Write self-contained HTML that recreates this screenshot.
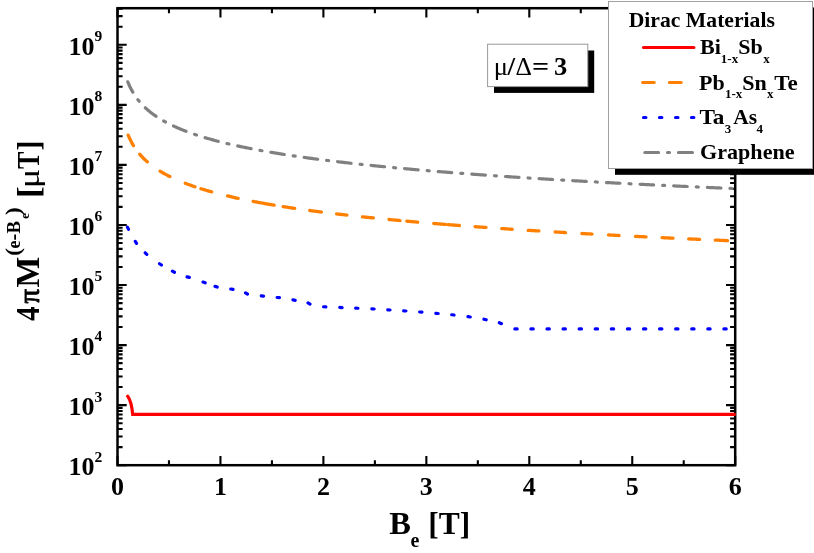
<!DOCTYPE html>
<html><head><meta charset="utf-8"><title>Dirac Materials</title>
<style>html,body{margin:0;padding:0;background:#fff;}body{width:814px;height:553px;overflow:hidden;}svg{display:block;will-change:transform;}text{font-family:"Liberation Serif",serif;font-weight:bold;fill:#000;}.r{font-weight:normal;}</style></head><body>
<svg width="814" height="553" viewBox="0 0 814 553">
<rect x="0" y="0" width="814" height="553" fill="#fff"/>
<path d="M117.50 465.20 V456.00 M117.50 8.20 V17.40 M168.97 465.20 V460.20 M168.97 8.20 V13.20 M220.45 465.20 V456.00 M220.45 8.20 V17.40 M271.93 465.20 V460.20 M271.93 8.20 V13.20 M323.40 465.20 V456.00 M323.40 8.20 V17.40 M374.88 465.20 V460.20 M374.88 8.20 V13.20 M426.35 465.20 V456.00 M426.35 8.20 V17.40 M477.82 465.20 V460.20 M477.82 8.20 V13.20 M529.30 465.20 V456.00 M529.30 8.20 V17.40 M580.78 465.20 V460.20 M580.78 8.20 V13.20 M632.25 465.20 V456.00 M632.25 8.20 V17.40 M683.73 465.20 V460.20 M683.73 8.20 V13.20 M735.20 465.20 V456.00 M735.20 8.20 V17.40 M117.50 465.20 H126.70 M735.20 465.20 H726.00 M117.50 447.12 H122.60 M735.20 447.12 H730.10 M117.50 436.54 H122.60 M735.20 436.54 H730.10 M117.50 429.04 H122.60 M735.20 429.04 H730.10 M117.50 423.22 H122.60 M735.20 423.22 H730.10 M117.50 418.46 H122.60 M735.20 418.46 H730.10 M117.50 414.44 H122.60 M735.20 414.44 H730.10 M117.50 410.96 H122.60 M735.20 410.96 H730.10 M117.50 407.89 H122.60 M735.20 407.89 H730.10 M117.50 405.14 H126.70 M735.20 405.14 H726.00 M117.50 387.06 H122.60 M735.20 387.06 H730.10 M117.50 376.48 H122.60 M735.20 376.48 H730.10 M117.50 368.98 H122.60 M735.20 368.98 H730.10 M117.50 363.16 H122.60 M735.20 363.16 H730.10 M117.50 358.40 H122.60 M735.20 358.40 H730.10 M117.50 354.38 H122.60 M735.20 354.38 H730.10 M117.50 350.90 H122.60 M735.20 350.90 H730.10 M117.50 347.83 H122.60 M735.20 347.83 H730.10 M117.50 345.08 H126.70 M735.20 345.08 H726.00 M117.50 327.00 H122.60 M735.20 327.00 H730.10 M117.50 316.42 H122.60 M735.20 316.42 H730.10 M117.50 308.92 H122.60 M735.20 308.92 H730.10 M117.50 303.10 H122.60 M735.20 303.10 H730.10 M117.50 298.34 H122.60 M735.20 298.34 H730.10 M117.50 294.32 H122.60 M735.20 294.32 H730.10 M117.50 290.84 H122.60 M735.20 290.84 H730.10 M117.50 287.77 H122.60 M735.20 287.77 H730.10 M117.50 285.02 H126.70 M735.20 285.02 H726.00 M117.50 266.94 H122.60 M735.20 266.94 H730.10 M117.50 256.36 H122.60 M735.20 256.36 H730.10 M117.50 248.86 H122.60 M735.20 248.86 H730.10 M117.50 243.04 H122.60 M735.20 243.04 H730.10 M117.50 238.28 H122.60 M735.20 238.28 H730.10 M117.50 234.26 H122.60 M735.20 234.26 H730.10 M117.50 230.78 H122.60 M735.20 230.78 H730.10 M117.50 227.71 H122.60 M735.20 227.71 H730.10 M117.50 224.96 H126.70 M735.20 224.96 H726.00 M117.50 206.88 H122.60 M735.20 206.88 H730.10 M117.50 196.30 H122.60 M735.20 196.30 H730.10 M117.50 188.80 H122.60 M735.20 188.80 H730.10 M117.50 182.98 H122.60 M735.20 182.98 H730.10 M117.50 178.22 H122.60 M735.20 178.22 H730.10 M117.50 174.20 H122.60 M735.20 174.20 H730.10 M117.50 170.72 H122.60 M735.20 170.72 H730.10 M117.50 167.65 H122.60 M735.20 167.65 H730.10 M117.50 164.90 H126.70 M735.20 164.90 H726.00 M117.50 146.82 H122.60 M735.20 146.82 H730.10 M117.50 136.24 H122.60 M735.20 136.24 H730.10 M117.50 128.74 H122.60 M735.20 128.74 H730.10 M117.50 122.92 H122.60 M735.20 122.92 H730.10 M117.50 118.16 H122.60 M735.20 118.16 H730.10 M117.50 114.14 H122.60 M735.20 114.14 H730.10 M117.50 110.66 H122.60 M735.20 110.66 H730.10 M117.50 107.59 H122.60 M735.20 107.59 H730.10 M117.50 104.84 H126.70 M735.20 104.84 H726.00 M117.50 86.76 H122.60 M735.20 86.76 H730.10 M117.50 76.18 H122.60 M735.20 76.18 H730.10 M117.50 68.68 H122.60 M735.20 68.68 H730.10 M117.50 62.86 H122.60 M735.20 62.86 H730.10 M117.50 58.10 H122.60 M735.20 58.10 H730.10 M117.50 54.08 H122.60 M735.20 54.08 H730.10 M117.50 50.60 H122.60 M735.20 50.60 H730.10 M117.50 47.53 H122.60 M735.20 47.53 H730.10 M117.50 44.78 H126.70 M735.20 44.78 H726.00 M117.50 26.70 H122.60 M735.20 26.70 H730.10 M117.50 16.12 H122.60 M735.20 16.12 H730.10 M117.50 8.62 H122.60 M735.20 8.62 H730.10" fill="none" stroke="#000" stroke-width="2.1"/>
<rect x="117.50" y="8.20" width="617.70" height="457.00" fill="none" stroke="#000" stroke-width="2.5"/>
<clipPath id="cp"><rect x="100" y="0" width="636.3" height="480"/></clipPath>
<path clip-path="url(#cp)" d="M127.80 81.84 L128.80 84.26 L129.80 86.47 L130.80 88.51 L131.80 90.40 L132.80 92.16 L133.80 93.81 L134.80 95.37 L135.80 96.83 L136.80 98.22 L137.80 99.54 L138.80 100.80 L139.80 101.99 L140.80 103.14 L141.80 104.23 L142.80 105.28 L143.80 106.30 L144.80 107.27 L145.80 108.21 L146.80 109.11 L147.80 109.99 L148.80 110.84 L149.80 111.66 L150.80 112.45 L151.80 113.22 L152.80 113.97 L153.80 114.70 L154.80 115.41 L155.80 116.10 L156.80 116.77 L157.80 117.43 L158.80 118.07 L159.80 118.69 L160.80 119.30 L161.80 119.90 L162.80 120.48 L163.80 121.05 L164.80 121.61 L165.80 122.15 L166.80 122.69 L167.80 123.21 L168.80 123.73 L169.80 124.23 L170.80 124.72 L171.80 125.21 L172.80 125.68 L173.80 126.15 L174.80 126.61 L175.80 127.06 L176.80 127.51 L177.80 127.94 L178.80 128.37 L179.80 128.79 L180.80 129.21 L181.80 129.62 L182.80 130.02 L183.80 130.42 L184.80 130.81 L185.80 131.19 L186.80 131.57 L187.80 131.94 L188.80 132.31 L189.80 132.68 L190.80 133.04 L191.80 133.39 L192.80 133.74 L193.80 134.08 L194.80 134.42 L195.80 134.76 L196.80 135.09 L197.80 135.41 L198.80 135.74 L199.80 136.06 L200.80 136.37 L201.80 136.68 L202.80 136.99 L203.80 137.29 L204.80 137.59 L205.80 137.89 L206.80 138.19 L207.80 138.48 L208.80 138.76 L209.80 139.05 L210.80 139.33 L211.80 139.61 L212.80 139.88 L213.80 140.15 L214.80 140.42 L215.80 140.69 L216.80 140.95 L217.80 141.22 L218.80 141.47 L219.80 141.73 L220.80 141.98 L221.80 142.24 L222.80 142.48 L223.80 142.73 L224.80 142.98 L225.80 143.22 L226.80 143.46 L227.80 143.69 L228.80 143.93 L229.80 144.16 L230.80 144.39 L231.80 144.62 L232.80 144.85 L233.80 145.08 L234.80 145.30 L235.80 145.52 L236.80 145.74 L237.80 145.96 L238.80 146.17 L239.80 146.39 L240.80 146.60 L241.80 146.81 L242.80 147.02 L243.80 147.23 L244.80 147.43 L245.80 147.64 L246.80 147.84 L247.80 148.04 L248.80 148.24 L249.80 148.44 L250.80 148.64 L251.80 148.83 L252.80 149.02 L253.80 149.22 L254.80 149.41 L255.80 149.60 L256.80 149.78 L257.80 149.97 L258.80 150.16 L259.80 150.34 L260.80 150.52 L261.80 150.70 L262.80 150.88 L263.80 151.06 L264.80 151.24 L265.80 151.42 L266.80 151.59 L267.80 151.77 L268.80 151.94 L269.80 152.11 L270.80 152.28 L271.80 152.45 L272.80 152.62 L273.80 152.79 L274.80 152.95 L275.80 153.12 L276.80 153.28 L277.80 153.45 L278.80 153.61 L279.80 153.77 L280.80 153.93 L281.80 154.09 L282.80 154.25 L283.80 154.40 L284.80 154.56 L285.80 154.72 L286.80 154.87 L287.80 155.02 L288.80 155.18 L289.80 155.33 L290.80 155.48 L291.80 155.63 L292.80 155.78 L293.80 155.93 L294.80 156.08 L295.80 156.22 L296.80 156.37 L297.80 156.51 L298.80 156.66 L299.80 156.80 L300.80 156.94 L301.80 157.09 L302.80 157.23 L303.80 157.37 L304.80 157.51 L305.80 157.65 L306.80 157.78 L307.80 157.92 L308.80 158.06 L309.80 158.19 L310.80 158.33 L311.80 158.46 L312.80 158.60 L313.80 158.73 L314.80 158.86 L315.80 159.00 L316.80 159.13 L317.80 159.26 L318.80 159.39 L319.80 159.52 L320.80 159.64 L321.80 159.77 L322.80 159.90 L323.80 160.03 L324.80 160.15 L325.80 160.28 L326.80 160.40 L327.80 160.53 L328.80 160.65 L329.80 160.77 L330.80 160.90 L331.80 161.02 L332.80 161.14 L333.80 161.26 L334.80 161.38 L335.80 161.50 L336.80 161.62 L337.80 161.74 L338.80 161.86 L339.80 161.98 L340.80 162.09 L341.80 162.21 L342.80 162.32 L343.80 162.44 L344.80 162.56 L345.80 162.67 L346.80 162.78 L347.80 162.90 L348.80 163.01 L349.80 163.12 L350.80 163.24 L351.80 163.35 L352.80 163.46 L353.80 163.57 L354.80 163.68 L355.80 163.79 L356.80 163.90 L357.80 164.01 L358.80 164.11 L359.80 164.22 L360.80 164.33 L361.80 164.44 L362.80 164.54 L363.80 164.65 L364.80 164.76 L365.80 164.86 L366.80 164.97 L367.80 165.07 L368.80 165.17 L369.80 165.28 L370.80 165.38 L371.80 165.48 L372.80 165.59 L373.80 165.69 L374.80 165.79 L375.80 165.89 L376.80 165.99 L377.80 166.09 L378.80 166.19 L379.80 166.29 L380.80 166.39 L381.80 166.49 L382.80 166.59 L383.80 166.69 L384.80 166.78 L385.80 166.88 L386.80 166.98 L387.80 167.07 L388.80 167.17 L389.80 167.27 L390.80 167.36 L391.80 167.46 L392.80 167.55 L393.80 167.65 L394.80 167.74 L395.80 167.84 L396.80 167.93 L397.80 168.02 L398.80 168.12 L399.80 168.21 L400.80 168.30 L401.80 168.39 L402.80 168.48 L403.80 168.57 L404.80 168.67 L405.80 168.76 L406.80 168.85 L407.80 168.94 L408.80 169.03 L409.80 169.12 L410.80 169.20 L411.80 169.29 L412.80 169.38 L413.80 169.47 L414.80 169.56 L415.80 169.65 L416.80 169.73 L417.80 169.82 L418.80 169.91 L419.80 169.99 L420.80 170.08 L421.80 170.17 L422.80 170.25 L423.80 170.34 L424.80 170.42 L425.80 170.51 L426.80 170.59 L427.80 170.67 L428.80 170.76 L429.80 170.84 L430.80 170.93 L431.80 171.01 L432.80 171.09 L433.80 171.17 L434.80 171.26 L435.80 171.34 L436.80 171.42 L437.80 171.50 L438.80 171.58 L439.80 171.66 L440.80 171.75 L441.80 171.83 L442.80 171.91 L443.80 171.99 L444.80 172.07 L445.80 172.15 L446.80 172.22 L447.80 172.30 L448.80 172.38 L449.80 172.46 L450.80 172.54 L451.80 172.62 L452.80 172.70 L453.80 172.77 L454.80 172.85 L455.80 172.93 L456.80 173.01 L457.80 173.08 L458.80 173.16 L459.80 173.23 L460.80 173.31 L461.80 173.39 L462.80 173.46 L463.80 173.54 L464.80 173.61 L465.80 173.69 L466.80 173.76 L467.80 173.84 L468.80 173.91 L469.80 173.99 L470.80 174.06 L471.80 174.13 L472.80 174.21 L473.80 174.28 L474.80 174.35 L475.80 174.43 L476.80 174.50 L477.80 174.57 L478.80 174.64 L479.80 174.72 L480.80 174.79 L481.80 174.86 L482.80 174.93 L483.80 175.00 L484.80 175.07 L485.80 175.14 L486.80 175.22 L487.80 175.29 L488.80 175.36 L489.80 175.43 L490.80 175.50 L491.80 175.57 L492.80 175.64 L493.80 175.70 L494.80 175.77 L495.80 175.84 L496.80 175.91 L497.80 175.98 L498.80 176.05 L499.80 176.12 L500.80 176.19 L501.80 176.25 L502.80 176.32 L503.80 176.39 L504.80 176.46 L505.80 176.52 L506.80 176.59 L507.80 176.66 L508.80 176.72 L509.80 176.79 L510.80 176.86 L511.80 176.92 L512.80 176.99 L513.80 177.06 L514.80 177.12 L515.80 177.19 L516.80 177.25 L517.80 177.32 L518.80 177.38 L519.80 177.45 L520.80 177.51 L521.80 177.58 L522.80 177.64 L523.80 177.71 L524.80 177.77 L525.80 177.83 L526.80 177.90 L527.80 177.96 L528.80 178.02 L529.80 178.09 L530.80 178.15 L531.80 178.21 L532.80 178.28 L533.80 178.34 L534.80 178.40 L535.80 178.46 L536.80 178.53 L537.80 178.59 L538.80 178.65 L539.80 178.71 L540.80 178.77 L541.80 178.84 L542.80 178.90 L543.80 178.96 L544.80 179.02 L545.80 179.08 L546.80 179.14 L547.80 179.20 L548.80 179.26 L549.80 179.32 L550.80 179.38 L551.80 179.44 L552.80 179.50 L553.80 179.56 L554.80 179.62 L555.80 179.68 L556.80 179.74 L557.80 179.80 L558.80 179.86 L559.80 179.92 L560.80 179.98 L561.80 180.04 L562.80 180.10 L563.80 180.15 L564.80 180.21 L565.80 180.27 L566.80 180.33 L567.80 180.39 L568.80 180.45 L569.80 180.50 L570.80 180.56 L571.80 180.62 L572.80 180.68 L573.80 180.73 L574.80 180.79 L575.80 180.85 L576.80 180.90 L577.80 180.96 L578.80 181.02 L579.80 181.07 L580.80 181.13 L581.80 181.19 L582.80 181.24 L583.80 181.30 L584.80 181.35 L585.80 181.41 L586.80 181.47 L587.80 181.52 L588.80 181.58 L589.80 181.63 L590.80 181.69 L591.80 181.74 L592.80 181.80 L593.80 181.85 L594.80 181.91 L595.80 181.96 L596.80 182.02 L597.80 182.07 L598.80 182.12 L599.80 182.18 L600.80 182.23 L601.80 182.29 L602.80 182.34 L603.80 182.39 L604.80 182.45 L605.80 182.50 L606.80 182.55 L607.80 182.61 L608.80 182.66 L609.80 182.71 L610.80 182.77 L611.80 182.82 L612.80 182.87 L613.80 182.92 L614.80 182.98 L615.80 183.03 L616.80 183.08 L617.80 183.13 L618.80 183.19 L619.80 183.24 L620.80 183.29 L621.80 183.34 L622.80 183.39 L623.80 183.45 L624.80 183.50 L625.80 183.55 L626.80 183.60 L627.80 183.65 L628.80 183.70 L629.80 183.75 L630.80 183.80 L631.80 183.85 L632.80 183.90 L633.80 183.96 L634.80 184.01 L635.80 184.06 L636.80 184.11 L637.80 184.16 L638.80 184.21 L639.80 184.26 L640.80 184.31 L641.80 184.36 L642.80 184.41 L643.80 184.46 L644.80 184.51 L645.80 184.55 L646.80 184.60 L647.80 184.65 L648.80 184.70 L649.80 184.75 L650.80 184.80 L651.80 184.85 L652.80 184.90 L653.80 184.95 L654.80 185.00 L655.80 185.04 L656.80 185.09 L657.80 185.14 L658.80 185.19 L659.80 185.24 L660.80 185.28 L661.80 185.33 L662.80 185.38 L663.80 185.43 L664.80 185.48 L665.80 185.52 L666.80 185.57 L667.80 185.62 L668.80 185.67 L669.80 185.71 L670.80 185.76 L671.80 185.81 L672.80 185.85 L673.80 185.90 L674.80 185.95 L675.80 186.00 L676.80 186.04 L677.80 186.09 L678.80 186.14 L679.80 186.18 L680.80 186.23 L681.80 186.27 L682.80 186.32 L683.80 186.37 L684.80 186.41 L685.80 186.46 L686.80 186.50 L687.80 186.55 L688.80 186.60 L689.80 186.64 L690.80 186.69 L691.80 186.73 L692.80 186.78 L693.80 186.82 L694.80 186.87 L695.80 186.91 L696.80 186.96 L697.80 187.00 L698.80 187.05 L699.80 187.09 L700.80 187.14 L701.80 187.18 L702.80 187.23 L703.80 187.27 L704.80 187.32 L705.80 187.36 L706.80 187.40 L707.80 187.45 L708.80 187.49 L709.80 187.54 L710.80 187.58 L711.80 187.63 L712.80 187.67 L713.80 187.71 L714.80 187.76 L715.80 187.80 L716.80 187.84 L717.80 187.89 L718.80 187.93 L719.80 187.97 L720.80 188.02 L721.80 188.06 L722.80 188.10 L723.80 188.15 L724.80 188.19 L725.80 188.23 L726.80 188.28 L727.80 188.32 L728.80 188.36 L729.80 188.40 L730.80 188.45 L731.80 188.49 L732.80 188.53 L733.80 188.57 L734.80 188.62 L735.20 188.63" fill="none" stroke="#808080" stroke-width="3.2" stroke-linecap="round" stroke-linejoin="round" stroke-dasharray="13.6 9.05 2 9.05" stroke-dashoffset="2.1"/>
<path d="M128.19 135.12 L129.19 137.46 L130.19 139.60 L131.19 141.58 L132.19 143.42 L133.19 145.14 L133.43 145.53 M139.67 154.16 L140.67 155.31 L141.67 156.41 L142.67 157.47 L143.67 158.49 L144.67 159.46 L145.67 160.41 L146.67 161.32 L147.27 161.85 M160.08 171.18 L161.08 171.78 L162.08 172.38 L163.08 172.96 L164.08 173.52 L165.08 174.08 L166.08 174.62 L167.08 175.15 L168.08 175.67 L169.08 176.18 L169.86 176.57 M185.30 183.31 L186.30 183.70 L187.30 184.07 L188.30 184.44 L189.30 184.81 L190.30 185.17 L191.30 185.53 L192.30 185.88 L193.30 186.22 L194.30 186.57 L194.98 186.79 M200.93 188.73 L201.93 189.04 L202.93 189.34 L203.93 189.65 L204.93 189.95 L205.93 190.24 L206.93 190.54 L207.93 190.83 L208.93 191.11 L209.93 191.40 L210.93 191.68 L211.65 191.88 M227.66 195.97 L228.66 196.21 L229.66 196.44 L230.66 196.68 L231.66 196.91 L232.66 197.13 L233.66 197.36 L234.66 197.58 L235.66 197.80 L236.66 198.02 L237.66 198.24 L238.13 198.34 M253.17 201.41 L254.17 201.60 L255.17 201.79 L256.17 201.98 L257.17 202.17 L258.17 202.35 L259.17 202.54 L260.17 202.72 L261.02 202.88 M262.98 203.23 L263.98 203.41 L264.98 203.58 L265.98 203.76 L266.98 203.94 L267.98 204.11 L268.98 204.28 L269.98 204.45 L270.98 204.62 L271.98 204.79 L272.98 204.96 L273.98 205.13 L274.12 205.15 M283.18 206.62 L284.18 206.78 L285.18 206.93 L286.18 207.09 L287.18 207.24 L288.18 207.40 L289.18 207.55 L290.18 207.70 L291.18 207.85 L292.18 208.00 L293.18 208.15 L294.18 208.30 L294.72 208.38 M309.79 210.50 L310.79 210.64 L311.79 210.77 L312.79 210.91 L313.79 211.04 L314.79 211.17 L315.79 211.31 L316.79 211.44 L317.79 211.57 L318.79 211.70 L319.79 211.83 L320.79 211.96 L321.41 212.04 M336.59 213.91 L337.59 214.03 L338.59 214.15 L339.59 214.26 L340.59 214.38 L341.59 214.50 L342.59 214.61 L343.59 214.73 L344.59 214.84 L345.59 214.96 L346.59 215.07 L346.91 215.11 M362.49 216.82 L363.49 216.93 L364.49 217.04 L365.49 217.14 L366.49 217.25 L367.49 217.35 L368.49 217.45 L369.49 217.56 L370.49 217.66 L371.49 217.76 L372.49 217.87 L373.41 217.96 M388.99 219.50 L389.99 219.60 L390.99 219.69 L391.99 219.79 L392.99 219.88 L393.99 219.98 L394.99 220.07 L395.99 220.17 L396.99 220.26 L397.99 220.35 L398.99 220.45 L399.99 220.54 L400.01 220.54 M406.79 221.16 L407.79 221.25 L408.79 221.34 L409.79 221.43 L410.79 221.52 L411.79 221.61 L412.79 221.69 L413.79 221.78 L414.79 221.87 L415.79 221.96 L416.79 222.05 L417.71 222.12 M433.79 223.49 L434.79 223.57 L435.79 223.65 L436.79 223.73 L437.79 223.81 L438.79 223.90 L439.79 223.98 L440.79 224.06 L441.79 224.14 L442.79 224.22 L443.79 224.30 L444.79 224.38 L445.50 224.43 M448.00 224.63 L449.00 224.71 L450.00 224.79 L451.00 224.87 L452.00 224.95 L453.00 225.02 L454.00 225.10 L455.00 225.18 L456.00 225.26 L457.00 225.33 L458.00 225.41 L459.00 225.49 L459.40 225.52 M475.10 226.69 L476.10 226.76 L477.10 226.83 L478.10 226.91 L479.10 226.98 L480.10 227.05 L481.10 227.12 L482.10 227.19 L483.10 227.26 L484.10 227.34 L485.10 227.41 L486.00 227.47 M501.70 228.56 L502.70 228.63 L503.70 228.69 L504.70 228.76 L505.70 228.83 L506.70 228.90 L507.70 228.96 L508.70 229.03 L509.70 229.10 L510.70 229.16 L511.70 229.23 L512.10 229.26 M528.20 230.30 L529.20 230.36 L530.20 230.43 L531.20 230.49 L532.20 230.55 L533.20 230.61 L534.20 230.68 L535.20 230.74 L536.20 230.80 L537.20 230.86 L538.20 230.93 L538.90 230.97 M555.10 231.95 L556.10 232.01 L557.10 232.07 L558.10 232.13 L559.10 232.19 L560.10 232.25 L561.10 232.31 L562.10 232.37 L563.10 232.43 L564.10 232.48 L565.10 232.54 L565.50 232.57 M581.90 233.50 L582.90 233.56 L583.90 233.62 L584.90 233.67 L585.90 233.73 L586.90 233.78 L587.90 233.84 L588.90 233.89 L589.90 233.95 L590.90 234.01 L591.90 234.06 L592.00 234.07 M608.50 234.96 L609.50 235.01 L610.50 235.06 L611.50 235.12 L612.50 235.17 L613.50 235.22 L614.50 235.27 L615.50 235.33 L616.50 235.38 L617.50 235.43 L618.50 235.48 L619.10 235.51 M635.50 236.35 L636.50 236.40 L637.50 236.45 L638.50 236.50 L639.50 236.55 L640.50 236.60 L641.50 236.65 L642.50 236.70 L643.50 236.75 L644.50 236.80 L645.50 236.85 L646.00 236.88 M662.10 237.66 L663.10 237.71 L664.10 237.76 L665.10 237.80 L666.10 237.85 L667.10 237.90 L668.10 237.95 L669.10 237.99 L670.10 238.04 L671.10 238.09 L672.10 238.13 L673.00 238.18 M688.70 238.90 L689.70 238.95 L690.70 238.99 L691.70 239.04 L692.70 239.09 L693.70 239.13 L694.70 239.18 L695.70 239.22 L696.70 239.27 L697.70 239.31 L698.70 239.36 L699.60 239.40 M715.30 240.09 L716.30 240.13 L717.30 240.18 L718.30 240.22 L719.30 240.26 L720.30 240.31 L721.30 240.35 L722.30 240.39 L723.30 240.44 L724.30 240.48 L725.30 240.52 L726.30 240.57 L727.30 240.61 L727.50 240.62" fill="none" stroke="#ff8000" stroke-width="3.3" stroke-linecap="round" stroke-linejoin="round"/>
<path d="M127.46 227.18 L128.54 229.22 M135.29 241.42 L136.51 243.38 M145.19 252.79 L146.81 254.41 M159.56 263.74 L161.44 265.06 M172.38 271.18 L174.42 272.22 M187.08 276.86 L189.32 277.34 M203.00 282.06 L205.20 282.74 M215.00 286.36 L217.20 287.04 M230.77 289.00 L233.03 289.40 M245.54 292.87 L247.46 294.13 M261.26 295.88 L263.54 296.12 M277.15 297.50 L279.45 297.70 M292.97 299.90 L295.23 300.30 M308.00 302.93 L310.00 304.07 M323.55 306.76 L325.85 306.84 M339.75 307.44 L342.05 307.56 M355.65 308.14 L357.95 308.26 M371.85 308.82 L374.15 308.98 M387.75 309.82 L390.05 309.98 M403.65 310.82 L405.95 310.98 M419.65 312.00 L421.95 312.20 M435.85 313.30 L438.15 313.50 M451.76 314.78 L454.04 315.02 M467.96 316.64 L470.24 316.96 M483.98 319.24 L486.22 319.76 M499.36 322.71 L501.44 323.69 M514.85 328.90 L517.15 328.90 M530.93 328.90 L533.23 328.90 M547.01 328.90 L549.31 328.90 M563.09 328.90 L565.39 328.90 M579.17 328.90 L581.47 328.90 M595.25 328.90 L597.55 328.90 M611.33 328.90 L613.63 328.90 M627.41 328.90 L629.71 328.90 M643.49 328.90 L645.79 328.90 M659.57 328.90 L661.87 328.90 M675.65 328.90 L677.95 328.90 M691.73 328.90 L694.03 328.90 M707.81 328.90 L710.11 328.90 M723.89 328.90 L726.19 328.90" fill="none" stroke="#0000ff" stroke-width="3.2" stroke-linecap="round"/>
<path d="M127.7 396.2 C129.6 398.6 131.6 403 132.7 414.4 L734.4 414.4" fill="none" stroke="#ff0000" stroke-width="3.2" stroke-linecap="round" stroke-linejoin="miter"/>
<text x="68.5" y="475.20" font-size="26">10<tspan font-size="15.5" dy="-13.6">2</tspan></text>
<text x="68.5" y="415.14" font-size="26">10<tspan font-size="15.5" dy="-13.6">3</tspan></text>
<text x="68.5" y="355.08" font-size="26">10<tspan font-size="15.5" dy="-13.6">4</tspan></text>
<text x="68.5" y="295.02" font-size="26">10<tspan font-size="15.5" dy="-13.6">5</tspan></text>
<text x="68.5" y="234.96" font-size="26">10<tspan font-size="15.5" dy="-13.6">6</tspan></text>
<text x="68.5" y="174.90" font-size="26">10<tspan font-size="15.5" dy="-13.6">7</tspan></text>
<text x="68.5" y="114.84" font-size="26">10<tspan font-size="15.5" dy="-13.6">8</tspan></text>
<text x="68.5" y="54.78" font-size="26">10<tspan font-size="15.5" dy="-13.6">9</tspan></text>
<text x="117.50" y="494.7" font-size="26" text-anchor="middle">0</text>
<text x="220.45" y="494.7" font-size="26" text-anchor="middle">1</text>
<text x="323.40" y="494.7" font-size="26" text-anchor="middle">2</text>
<text x="426.35" y="494.7" font-size="26" text-anchor="middle">3</text>
<text x="529.30" y="494.7" font-size="26" text-anchor="middle">4</text>
<text x="632.25" y="494.7" font-size="26" text-anchor="middle">5</text>
<text x="735.20" y="494.7" font-size="26" text-anchor="middle">6</text>
<text x="389.2" y="534.1" font-size="32.5">B<tspan font-size="20" dy="13.3" dx="-0.3">e</tspan><tspan dy="-13.3" dx="1.0" textLength="49.9" lengthAdjust="spacingAndGlyphs"> [T]</tspan></text>
<g transform="translate(39.3 320.6) rotate(-90)">
<text transform="translate(-0.30 0.00) scale(0.850 1)" font-size="34.0">4</text>
<text class="r" stroke="#000" stroke-width="0.90" stroke-linejoin="round" transform="translate(17.20 -0.40) scale(0.950 1)" font-size="30.5">π</text>
<text transform="translate(33.04 0.00) scale(0.975 1)" font-size="33.5">M</text>
<text transform="translate(64.79 -19.00) scale(1.150 1)" font-size="20.0">(</text>
<text transform="translate(72.09 -19.00) scale(0.920 1)" font-size="19.5">e</text>
<text transform="translate(80.17 -19.00) scale(1.000 1)" font-size="20.0">-</text>
<text transform="translate(87.09 -19.00) scale(0.960 1)" font-size="19.5">B</text>
<text transform="translate(101.64 -10.40) scale(1.000 1)" font-size="13.5">e</text>
<text transform="translate(105.56 -19.00) scale(1.150 1)" font-size="20.0">)</text>
<text transform="translate(122.59 0.00) scale(1.080 1)" font-size="32.5">[</text>
<text class="r" transform="translate(132.23 0.00) scale(1.200 1)" font-size="30.5">μ</text>
<text transform="translate(151.69 0.00) scale(0.800 1)" font-size="32.5">T</text>
<text transform="translate(170.12 0.00) scale(0.920 1)" font-size="32.5">]</text>
</g>
<rect x="494" y="50.5" width="100.2" height="42.4" fill="#000"/>
<rect x="487.6" y="44.2" width="100.2" height="42.4" fill="#fff" stroke="#999" stroke-width="1"/>
<g transform="translate(0 75.3)">
<text class="r" transform="translate(493.85 0.00) scale(1.020 1)" font-size="26.0">μ</text>
<text transform="translate(507.57 0.00) scale(1.050 1)" font-size="26.0">/</text>
<text class="r" transform="translate(515.43 0.00) scale(1.040 1)" font-size="24.5">Δ</text>
<text transform="translate(531.90 0.00) scale(1.160 1)" font-size="26.0">=</text>
<text transform="translate(554.00 0.00) scale(1.020 1)" font-size="26.0">3</text>
</g>
<rect x="615" y="7.5" width="205" height="167.3" fill="#000"/>
<rect x="608.5" y="1.5" width="204" height="167" fill="#fff" stroke="#a0a0a0" stroke-width="1"/>
<text x="628.7" y="26.8" font-size="22" textLength="146.2" lengthAdjust="spacingAndGlyphs">Dirac Materials</text>
<path d="M643.5 47.5 H693.9" stroke="#ff0000" stroke-width="3.1" stroke-linecap="round" fill="none"/>
<path d="M642.6 82.5 H654.2 M669.4 82.5 H681.2" stroke="#ff8000" stroke-width="3.1" stroke-linecap="round" fill="none"/>
<path d="M643.5 117.5 h2.4 M659.45 117.5 h2.4 M675.55 117.5 h2.4 M691.45 117.5 h2.4" stroke="#0000ff" stroke-width="3.2" stroke-linecap="round" fill="none"/>
<path d="M644.8 152.5 H658.6 M667.5 152.5 H669.5 M678.4 152.5 H692.5" stroke="#808080" stroke-width="3.1" stroke-linecap="round" fill="none"/>
<text x="700.0" y="54.4" font-size="22">Bi<tspan font-size="13" dy="8.9">1-x</tspan><tspan dy="-8.9">Sb</tspan><tspan font-size="13" dy="8.9" dx="0.5">x</tspan></text>
<text x="699.0" y="89.5" font-size="22">Pb<tspan font-size="13" dy="8.9" dx="0.3">1-x</tspan><tspan dy="-8.9">Sn</tspan><tspan font-size="13" dy="8.9" dx="0.3">x</tspan><tspan dy="-8.9" dx="0.6" textLength="23.4" lengthAdjust="spacingAndGlyphs">Te</tspan></text>
<text x="699.4" y="124.4" font-size="22"><tspan textLength="25.0" lengthAdjust="spacingAndGlyphs">Ta</tspan><tspan font-size="13" dy="8.9" dx="0.4">3</tspan><tspan dy="-8.9" dx="1.9" textLength="23.8" lengthAdjust="spacingAndGlyphs">As</tspan><tspan font-size="13" dy="8.9" dx="-0.5">4</tspan></text>
<text x="700.0" y="159.1" font-size="22" textLength="94.6" lengthAdjust="spacingAndGlyphs">Graphene</text>
</svg></body></html>
